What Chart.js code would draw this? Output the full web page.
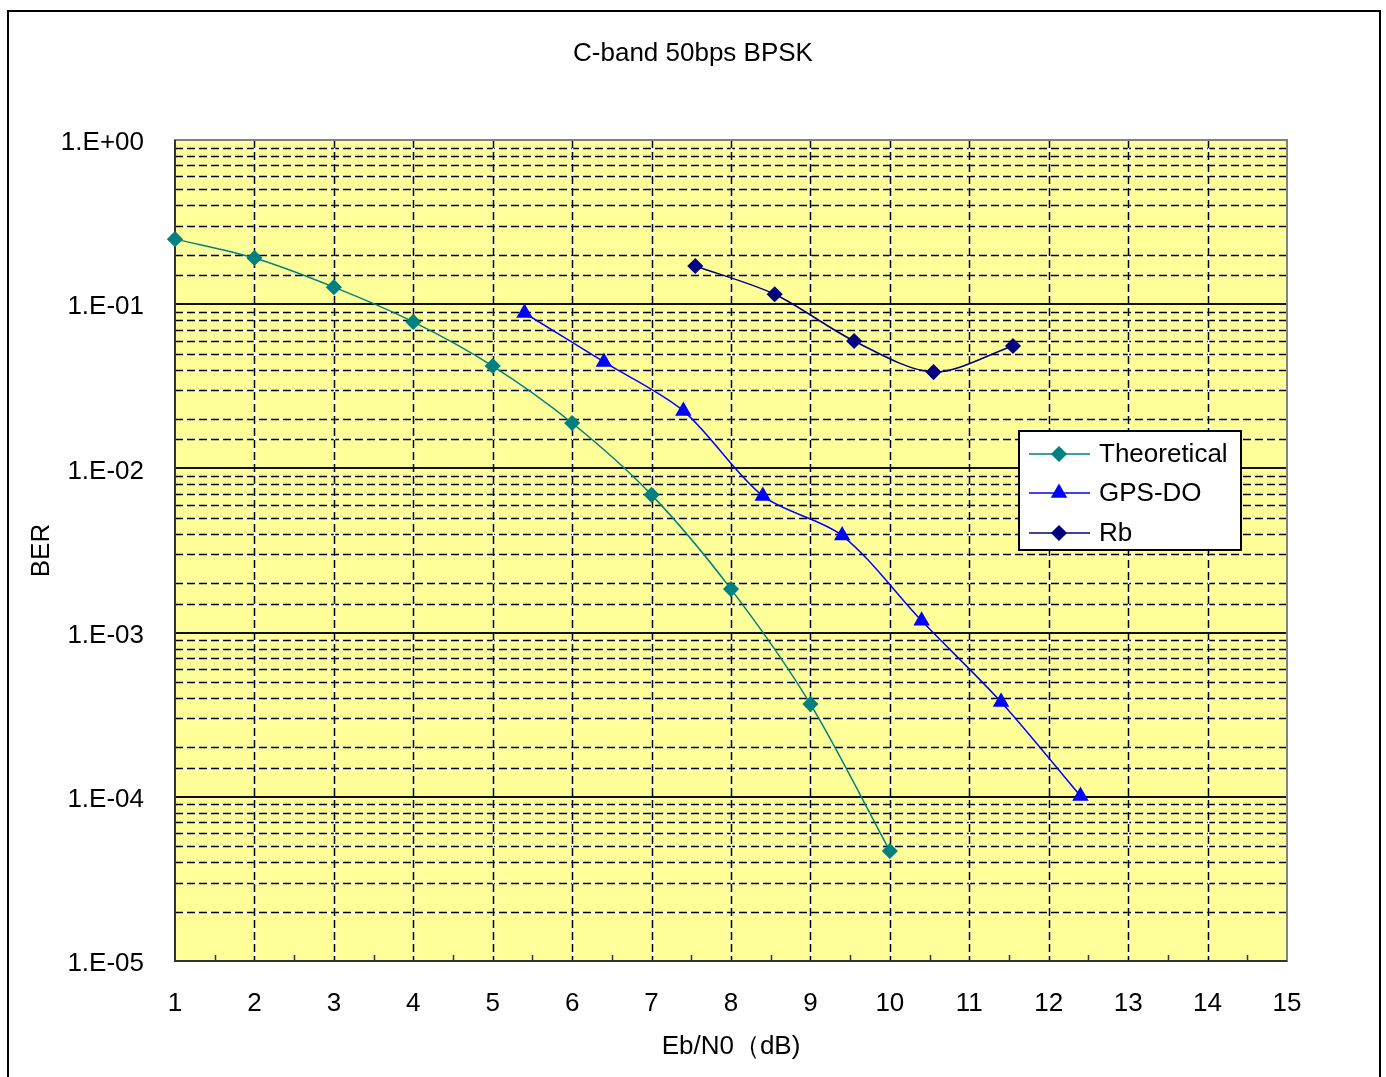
<!DOCTYPE html>
<html><head><meta charset="utf-8">
<script src="https://cdn.jsdelivr.net/npm/chart.js@4.4.1/dist/chart.umd.min.js"></script>
<style>html,body{margin:0;padding:0;background:#fff;overflow:hidden}#wrap{position:absolute;left:0;top:0;width:1386px;height:1077px}</style>
</head><body><div id="wrap"><canvas id="c" width="1386" height="1077"></canvas></div>
<script>
// ---- data ----
const chartTitle = 'C-band 50bps BPSK';
const xAxisTitle = 'Eb/N0（dB)';
const yAxisTitle = 'BER';
const xMin = 1, xMax = 15;
const yDecades = [1e-5, 1e-4, 1e-3, 1e-2, 1e-1, 1];
const yTickLabels = ['1.E-05', '1.E-04', '1.E-03', '1.E-02', '1.E-01', '1.E+00'];
const seriesNames = ['Theoretical', 'GPS-DO', 'Rb'];
const theoreticalX = [1, 2, 3, 4, 5, 6, 7, 8, 9, 10];
const theoreticalBER = [0.249, 0.191, 0.127, 0.078, 0.042, 0.0189, 0.0069, 0.00184, 0.000367, 0.0000468];
const gpsX = [5.4, 6.4, 7.4, 8.4, 9.4, 10.4, 11.4, 12.4];
const gpsBER = [0.0884, 0.0445, 0.0224, 0.0068, 0.0039, 0.00118, 0.000378, 0.000101];
const rbX = [7.55, 8.55, 9.55, 10.55, 11.55];
const rbBER = [0.171, 0.115, 0.0597, 0.0386, 0.0556];

const FONT = "'Liberation Sans', Arial, sans-serif";
const pts = (xs, ys) => xs.map((x, i) => ({x: x, y: ys[i]}));

const bgPlugin = {
  id: 'bg',
  beforeDraw(chart) {
    const {ctx, chartArea: a} = chart;
    ctx.save();
    ctx.fillStyle = '#fff';
    ctx.fillRect(0, 0, chart.width, chart.height);
    ctx.strokeStyle = '#000';
    ctx.lineWidth = 2;
    ctx.strokeRect(8, 11, 1372, 1090);
    ctx.fillStyle = '#FFFF99';
    ctx.fillRect(a.left, a.top, a.right - a.left, a.bottom - a.top);
    ctx.restore();
  },
  beforeDatasetsDraw(chart) {
    const {ctx, chartArea: a, scales: {x, y}} = chart;
    ctx.save();
    const dashed = (x1, y1, x2, y2) => {
      ctx.setLineDash([]);
      ctx.strokeStyle = '#fff';
      ctx.lineWidth = 1.5;
      ctx.beginPath(); ctx.moveTo(x1, y1); ctx.lineTo(x2, y2); ctx.stroke();
      ctx.setLineDash([8, 4]);
      ctx.strokeStyle = '#000';
      ctx.beginPath(); ctx.moveTo(x1, y1); ctx.lineTo(x2, y2); ctx.stroke();
    };
    y.ticks.forEach(t => {
      const isMajor = yDecades.some(d => Math.abs(Math.log10(t.value) - Math.log10(d)) < 1e-6);
      if (isMajor) return;
      const py = Math.round(y.getPixelForValue(t.value)) + 0.5;
      dashed(a.left, py, a.right, py);
    });
    x.ticks.forEach(t => {
      if (t.value <= xMin || t.value >= xMax) return;
      const px = Math.round(x.getPixelForValue(t.value)) + 0.5;
      dashed(px, a.top, px, a.bottom);
    });
    ctx.setLineDash([]);
    ctx.strokeStyle = '#111';
    ctx.lineWidth = 2;
    yDecades.forEach(d => {
      const py = Math.round(y.getPixelForValue(d));
      ctx.beginPath(); ctx.moveTo(a.left, py); ctx.lineTo(a.right, py); ctx.stroke();
    });
    ctx.strokeStyle = '#808080';
    ctx.lineWidth = 2;
    ctx.strokeRect(a.left, a.top, a.right - a.left, a.bottom - a.top);
    ctx.strokeStyle = '#333';
    ctx.beginPath();
    ctx.moveTo(a.left, a.top); ctx.lineTo(a.left, a.bottom); ctx.lineTo(a.right, a.bottom);
    ctx.stroke();
    ctx.lineWidth = 1.5;
    for (let v = xMin + 0.5; v < xMax; v += 1) {
      const px = Math.round(x.getPixelForValue(v)) + 0.5;
      ctx.beginPath(); ctx.moveTo(px, a.bottom); ctx.lineTo(px, a.bottom - 6); ctx.stroke();
    }
    ctx.restore();
  },
  afterDraw(chart) {
    const ctx = chart.ctx;
    const bx = 1019, by = 431, bw = 222, bh = 119;
    ctx.save();
    ctx.fillStyle = '#fff';
    ctx.fillRect(bx, by, bw, bh);
    ctx.strokeStyle = '#000';
    ctx.lineWidth = 2;
    ctx.strokeRect(bx, by, bw, bh);
    const rows = [454, 493, 533];
    chart.data.datasets.forEach((ds, i) => {
      const ry = rows[i];
      ctx.strokeStyle = ds.borderColor;
      ctx.lineWidth = 1.5;
      ctx.beginPath(); ctx.moveTo(1029, ry); ctx.lineTo(1090, ry); ctx.stroke();
      ctx.fillStyle = ds.backgroundColor;
      Chart.helpers.drawPoint(ctx, {pointStyle: ds.pointStyle, radius: ds.pointRadius, borderWidth: 1, rotation: 0}, 1059, ry);
      ctx.fillStyle = '#000';
      ctx.font = '26px ' + FONT;
      ctx.textBaseline = 'middle';
      ctx.textAlign = 'left';
      ctx.fillText(ds.label, 1099, ry + 1);
    });
    ctx.restore();
  }
};

const ds = (label, data, color, style, r) => ({
  label, data, showLine: true, borderColor: color, backgroundColor: color,
  borderWidth: 1.5, pointStyle: style, pointRadius: r, pointHoverRadius: r,
  pointBorderColor: color, pointBackgroundColor: color, tension: 0.3, clip: false
});

new Chart(document.getElementById('c'), {
  type: 'scatter',
  data: {
    datasets: [
      ds(seriesNames[0], pts(theoreticalX, theoreticalBER), '#008080', 'rectRot', 7),
      ds(seriesNames[1], pts(gpsX, gpsBER), '#0000FF', 'triangle', 8),
      ds(seriesNames[2], pts(rbX, rbBER), '#000080', 'rectRot', 7)
    ]
  },
  options: {
    responsive: false,
    devicePixelRatio: 1,
    animation: false,
    layout: {padding: 0},
    plugins: {
      legend: {display: false},
      tooltip: {enabled: false},
      title: {
        display: true, text: chartTitle, color: '#000',
        font: {family: FONT, size: 26, weight: 'normal', lineHeight: 1.2},
        padding: {top: 38.4, bottom: 70.4}
      }
    },
    scales: {
      x: {
        type: 'linear', min: xMin, max: xMax,
        grid: {display: false}, border: {display: false},
        ticks: {stepSize: 1, padding: 19, color: '#000', font: {family: FONT, size: 26}, maxRotation: 0, autoSkip: false},
        title: {display: true, text: xAxisTitle, color: '#000', font: {family: FONT, size: 26, lineHeight: 1.2}, padding: {top: 0, bottom: 14.4}},
        afterFit(s) { s.height = 116; }
      },
      y: {
        type: 'logarithmic', min: 1e-5, max: 1,
        grid: {display: false}, border: {display: false},
        ticks: {
          padding: 23, labelOffset: 3, color: '#000', font: {family: FONT, size: 26}, autoSkip: false,
          callback(v) {
            const i = yDecades.findIndex(d => Math.abs(Math.log10(v) - Math.log10(d)) < 1e-6);
            return i >= 0 ? yTickLabels[i] : '';
          }
        },
        title: {display: true, text: yAxisTitle, color: '#000', font: {family: FONT, size: 26, lineHeight: 1.2}, padding: {top: 26.4, bottom: 0}},
        afterFit(s) { s.width = 175; }
      },
      yRight: {
        type: 'linear', position: 'right', min: 0, max: 1,
        grid: {display: false}, border: {display: false},
        ticks: {display: false},
        afterFit(s) { s.width = 99; }
      }
    }
  },
  plugins: [bgPlugin]
});
</script>
</body></html>
